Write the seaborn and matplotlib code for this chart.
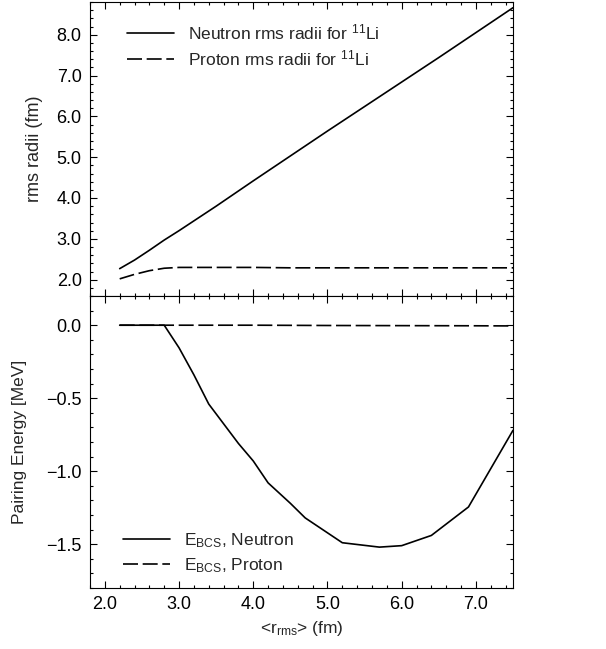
import numpy as np
import pandas as pd
import matplotlib
matplotlib.use("Agg")
import matplotlib.pyplot as plt
from matplotlib.ticker import MultipleLocator, FuncFormatter
import seaborn as sns

# ---- data ----
r_top = [2.2, 2.4, 2.6, 2.8, 3.0, 3.5, 4.0, 4.5, 5.0, 5.5, 6.0, 6.5, 7.0, 7.5]
neutron_rms = [2.27, 2.48, 2.72, 2.97, 3.20, 3.80, 4.42, 5.03, 5.64, 6.24, 6.84, 7.44, 8.05, 8.66]
proton_rms = [2.02, 2.13, 2.22, 2.28, 2.30, 2.30, 2.30, 2.29, 2.29, 2.29, 2.29, 2.29, 2.29, 2.29]

r_bot_n = [2.2, 2.8, 3.0, 3.2, 3.4, 3.8, 4.0, 4.2, 4.5, 4.7, 5.2, 5.7, 6.0, 6.4, 6.9, 7.5]
e_bcs_neutron = [0.0, 0.0, -0.155, -0.34, -0.54, -0.81, -0.93, -1.08, -1.22, -1.32, -1.49, -1.52, -1.51, -1.44, -1.245, -0.72]
r_bot_p = [2.2, 3.0, 4.0, 5.0, 6.0, 7.0, 7.5]
e_bcs_proton = [0.0, 0.0, 0.0, -0.002, -0.003, -0.004, -0.005]

labels_top = [r"Neutron rms radii for $^{11}$Li", r"Proton rms radii for $^{11}$Li"]
labels_bot = [r"E$_{BCS}$, Neutron", r"E$_{BCS}$, Proton"]

sns.set_style("ticks")
plt.rcParams['font.family'] = ['Liberation Sans', 'DejaVu Sans']
plt.rcParams['mathtext.default'] = 'regular'
plt.rcParams['axes.linewidth'] = 0.8

fig = plt.figure(figsize=(6.06, 6.49), dpi=100)
L, R = 90/606, 513/606
ax1 = fig.add_axes([L, 1-296/649, R-L, 294/649])
ax2 = fig.add_axes([L, 1-588/649, R-L, 292/649])

dash = (0, (9, 2.8))
lw = 1.2

df_top = pd.DataFrame({"r": r_top, "n": neutron_rms, "p": proton_rms})
sns.lineplot(data=df_top, x="r", y="n", ax=ax1, color="black", lw=lw, label=labels_top[0])
sns.lineplot(data=df_top, x="r", y="p", ax=ax1, color="black", lw=lw, linestyle=dash, label=labels_top[1])

df_bn = pd.DataFrame({"r": r_bot_n, "e": e_bcs_neutron})
df_bp = pd.DataFrame({"r": r_bot_p, "e": e_bcs_proton})
sns.lineplot(data=df_bn, x="r", y="e", ax=ax2, color="black", lw=lw, label=labels_bot[0])
sns.lineplot(data=df_bp, x="r", y="e", ax=ax2, color="black", lw=lw, linestyle=dash, label=labels_bot[1])

fmt = FuncFormatter(lambda v, p: ("%.1f" % v).replace("-", "\u2212") if abs(v) > 1e-9 else "0.0")

for ax in (ax1, ax2):
    ax.set_xlim(1.8, 7.5)
    ax.xaxis.set_major_locator(MultipleLocator(1.0))
    ax.xaxis.set_minor_locator(MultipleLocator(0.2))
    ax.xaxis.set_major_formatter(fmt)
    ax.yaxis.set_major_formatter(fmt)
    ax.tick_params(which='both', direction='in', top=True, right=True, labelsize=13, width=0.8,
                   colors='black', pad=6)
    ax.tick_params(which='major', length=5)
    ax.tick_params(which='minor', length=2.5)
    for s in ax.spines.values():
        s.set_color('black')

ax1.set_ylim(1.6, 8.8)
ax1.yaxis.set_major_locator(MultipleLocator(1.0))
ax1.yaxis.set_minor_locator(MultipleLocator(0.2))
ax1.tick_params(labelbottom=False)
ax1.set_xlabel("")
ax1.set_ylabel("rms radii (fm)", fontsize=13)
ax1.yaxis.set_label_coords(-0.11, 0.5)

ax2.set_ylim(-1.8, 0.2)
ax2.yaxis.set_major_locator(MultipleLocator(0.5))
ax2.yaxis.set_minor_locator(MultipleLocator(0.1))
ax2.set_ylabel("Pairing Energy [MeV]", fontsize=12.5)
ax2.yaxis.set_label_coords(-0.15, 0.5)
ax2.set_xlabel(r"<r$_{rms}$> (fm)", fontsize=12.5, labelpad=4)

ax1.legend(loc='upper left', bbox_to_anchor=(0.087, 0.93), frameon=False, fontsize=12.5,
           handlelength=2.7, handletextpad=0.8, borderpad=0, borderaxespad=0, labelspacing=0.35)
ax2.legend(loc='lower left', bbox_to_anchor=(0.078, 0.045), frameon=False, fontsize=12.5,
           handlelength=2.7, handletextpad=0.8, borderpad=0, borderaxespad=0, labelspacing=0.35)

fig.savefig("out.png", dpi=100)
